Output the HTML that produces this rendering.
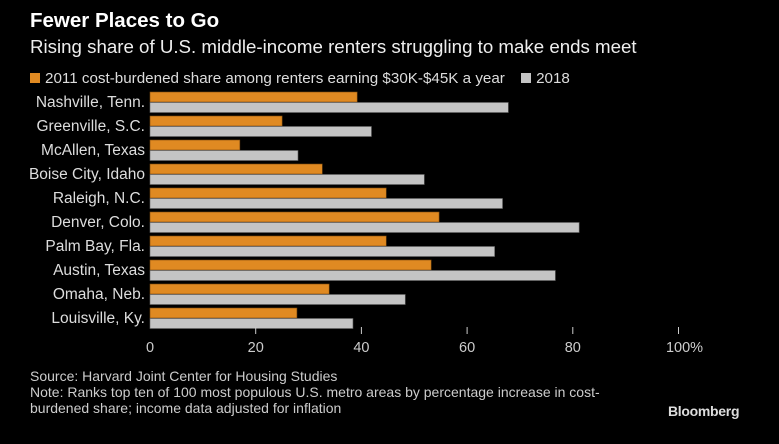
<!DOCTYPE html>
<html><head><meta charset="utf-8"><style>
body{margin:0;background:#000;width:779px;height:444px;overflow:hidden;font-family:"Liberation Sans",sans-serif;color:#ddd}
.t{position:absolute;white-space:nowrap}
</style></head><body>
<div class="t" style="left:30px;top:9px;font-size:20.5px;font-weight:bold;color:#fff">Fewer Places to Go</div>
<div class="t" style="left:30px;top:36px;font-size:18.7px;color:#eee">Rising share of U.S. middle-income renters struggling to make ends meet</div>
<div class="t" style="left:30px;top:70px;font-size:15.2px;color:#ddd">
<span style="display:inline-block;width:10px;height:10px;background:#e08a22;margin-right:5px"></span>2011 cost-burdened share among renters earning $30K-$45K a year
<span style="display:inline-block;width:10px;height:10px;background:#c4c4c4;margin:0 5px 0 12px"></span>2018</div>
<svg id="c" width="779" height="444" style="position:absolute;left:0;top:0"></svg>
<div class="t" style="left:30px;top:368px;font-size:14px;line-height:16px;color:#ccc">Source: Harvard Joint Center for Housing Studies<br>Note: Ranks top ten of 100 most populous U.S. metro areas by percentage increase in cost-<br>burdened share; income data adjusted for inflation</div>
<div class="t" style="left:668px;top:403px;font-size:14px;font-weight:bold;color:#ddd;letter-spacing:-0.3px">Bloomberg</div>
<script>
const cities=["Nashville, Tenn.","Greenville, S.C.","McAllen, Texas","Boise City, Idaho","Raleigh, N.C.","Denver, Colo.","Palm Bay, Fla.","Austin, Texas","Omaha, Neb.","Louisville, Ky."];
const v2011=[39.2,25,17,32.6,44.7,54.7,44.7,53.2,33.9,27.8];
const v2018=[67.8,41.9,28,51.9,66.7,81.2,65.2,76.7,48.3,38.4];
const ticks=[0,20,40,60,80,100];
const tickLabels=["0","20","40","60","80","100%"];
const svg=document.getElementById('c');const NS='http://www.w3.org/2000/svg';
const x=v=>150+v*5.285;
const y=i=>92+i*24;
function mk(t,a){const e=document.createElementNS(NS,t);for(const k in a)e.setAttribute(k,a[k]);svg.appendChild(e);return e;}
cities.forEach((c,i)=>{
 const l=mk('text',{x:145,y:y(i)+15,'text-anchor':'end','font-size':15.5,fill:'#ddd'});l.textContent=c;
 
 
 const a=mk('rect',{x:150,y:y(i),width:x(v2011[i])-150,height:10,fill:'#e08a22',stroke:'#7a4a10','stroke-width':0.6});
 
 
 const b=mk('rect',{x:150,y:y(i)+10.5,width:x(v2018[i])-150,height:10,fill:'#c4c4c4',stroke:'#666','stroke-width':0.6});
 
 
});
ticks.forEach((t,i)=>{
 if(i>0){const m=mk('line',{x1:x(t),x2:x(t),y1:327,y2:334,stroke:'#ccc','stroke-width':1});
 
 }
 const l=mk('text',{x:x(t)+(i==5?6:0),y:352,'text-anchor':'middle','font-size':14.5,fill:'#ccc'});l.textContent=tickLabels[i];
 
 
});
</script>
</body></html>
